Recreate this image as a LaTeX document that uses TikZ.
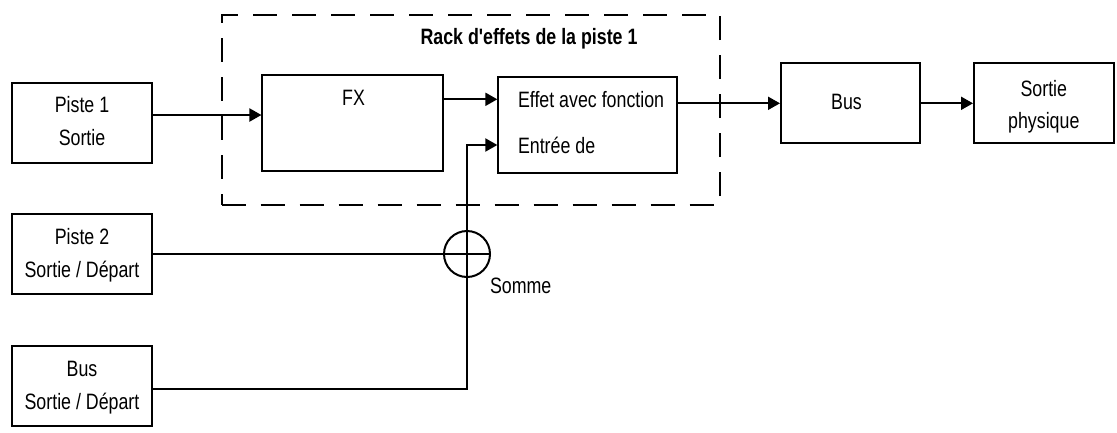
\documentclass[tikz,border=0pt]{standalone}
\usepackage{fontspec}
\usepackage{graphicx}
\setmainfont{Liberation Sans}
\usetikzlibrary{arrows.meta}
\newcommand{\stx}[1]{\scalebox{1}[1.25]{#1}}
\newcommand{\mlines}[2]{{\fontsize{17.8}{#1}\selectfont\scalebox{1}[1.25]{\begin{tabular}{@{}c@{}}#2\end{tabular}}}}
\begin{document}
\begin{tikzpicture}[x=1pt,y=-1pt,
  line width=2pt,
  every node/.style={font=\fontsize{17.8}{22}\selectfont},
  blockbox/.style={draw,line width=2pt,minimum width=140pt,minimum height=80pt,inner sep=0pt},
  plainbox/.style={draw,line width=2pt,inner sep=0pt},
  txt/.style={inner sep=0pt,text depth=0pt},
  arr/.style={-{Triangle[length=12pt,width=13pt]}},
  rackbox/.style={draw,line width=2pt,dash pattern=on 24pt off 15pt,inner sep=0pt}
]
\useasboundingbox (0,0) rectangle (1117,432);
% dashed rack
\node[rackbox,minimum width=498pt,minimum height=190pt] (rack) at (470.6,110) {};
\node[txt,font=\fontsize{17.8}{22}\selectfont\bfseries] (title) at (529,36) {\stx{Rack d\textquotesingle effets de la piste 1}};
% sources
\node[blockbox] (p1) at (82,122.5) {\mlines{26.4}{Piste 1\\Sortie}};
\node[blockbox] (p2) at (82,254) {\mlines{26.4}{Piste 2\\Sortie / Départ}};
\node[blockbox] (bs) at (82,386) {\mlines{26.4}{Bus\\Sortie / Départ}};
% FX
\node[plainbox,minimum width=180.5pt,minimum height=96pt] (fx) at (352.7,123) {};
\node[txt] (fxt) at (353.6,98) {\stx{FX}};
% effect
\node[plainbox,minimum width=178.3pt,minimum height=96pt] (eff) at (587.5,124.7) {};
\node[txt,anchor=west] (efft1) at (517,99.3) {\stx{Effet avec fonction}};
\node[txt,anchor=west] (efft2) at (517,145) {\stx{Entrée de}};
% bus and output
\node[blockbox,minimum width=139pt] (bus) at (850.5,103.2) {};
\node[txt] (bust) at (846.5,101.7) {\stx{Bus}};
\node[blockbox,minimum width=139.6pt] (out) at (1043.8,103.3) {\raisebox{-3pt}[\height][\depth]{\mlines{25.3}{Sortie\\physique}}};
% sum
\node[draw,circle,minimum size=46pt,inner sep=0pt,line width=2pt] (sum) at (467,254) {};
\node[txt,anchor=west] (somme) at (489,286) {\stx{Somme}};
% levels
\coordinate (y1) at (0,115);
\coordinate (y2) at (0,99.3);
\coordinate (y3) at (0,103.3);
\coordinate (y4) at (0,145);
\coordinate (y5) at (0,389);
% connectors
\draw[arr] (p1.east |- y1) -- (fx.west |- y1);
\draw[arr] (fx.east |- y2) -- (eff.west |- y2);
\draw[arr] (eff.east |- y3) -- (bus.west |- y3);
\draw[arr] (bus.east |- y3) -- (out.west |- y3);
\draw (p2.east |- sum.center) -- (sum.east);
\draw[arr] (bs.east |- y5) -| (sum.center) |- (eff.west |- y4);
\end{tikzpicture}
\end{document}
